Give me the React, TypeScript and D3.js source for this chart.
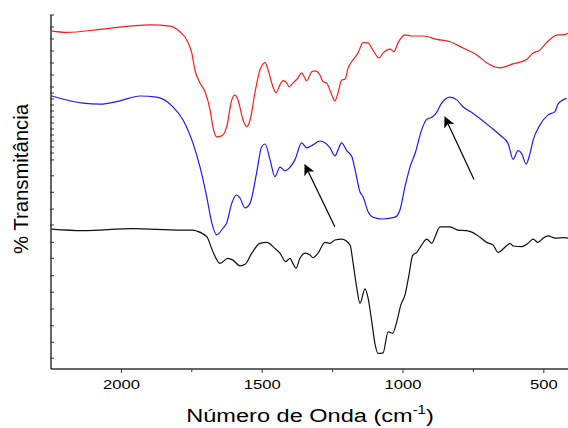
import React, { useEffect, useRef } from "react";
import * as d3 from "d3";

// wavenumber (cm-1) / transmittance (arbitrary offset units)
const redWn = [2250, 2194, 2076, 1959, 1898, 1827, 1792, 1768, 1750, 1739, 1721, 1703, 1685, 1675, 1662, 1644, 1626, 1608, 1597, 1586, 1568, 1555, 1543, 1526, 1508, 1490, 1479, 1466, 1451, 1437, 1426, 1413, 1405, 1391, 1373, 1360, 1342, 1324, 1313, 1295, 1284, 1271, 1253, 1242, 1231, 1218, 1206, 1195, 1178, 1160, 1142, 1124, 1107, 1085, 1071, 1046, 1032, 1018, 993, 969, 929, 880, 833, 787, 738, 703, 656, 609, 561, 538, 514, 490, 454, 432, 414];
const redT = [112.7, 112.2, 113.2, 114.4, 114.7, 114.3, 112.4, 109.7, 105.3, 99.7, 95.3, 92.4, 86.3, 80.7, 77.4, 77.7, 80.8, 89.7, 91.3, 89.7, 83, 80.8, 83, 92, 99.7, 102.1, 99.7, 95.3, 92.1, 94.7, 96.1, 95.4, 94.1, 95.3, 97, 98.7, 96.1, 99.1, 99.4, 98, 95.8, 95.3, 91.3, 89.4, 92, 96.3, 96.6, 100.3, 103, 105.3, 108.8, 108.7, 106.3, 103.7, 105.3, 106.6, 105.8, 108.7, 111.4, 111, 111, 109.9, 109.1, 107, 104.7, 102.1, 100.4, 101.7, 103.2, 105.3, 106.3, 108.8, 111.3, 111.4, 111.9];

const blueWn = [2250, 2136, 2076, 2005, 1934, 1875, 1817, 1781, 1746, 1721, 1697, 1679, 1662, 1639, 1626, 1608, 1591, 1579, 1561, 1543, 1520, 1502, 1490, 1472, 1455, 1437, 1419, 1401, 1384, 1360, 1342, 1320, 1295, 1277, 1259, 1242, 1231, 1218, 1200, 1182, 1170, 1153, 1142, 1124, 1107, 1071, 1028, 1011, 993, 975, 957, 934, 916, 898, 883, 863, 833, 809, 787, 751, 691, 656, 627, 609, 592, 579, 563, 549, 538, 514, 485, 460, 450, 419];
const blueT = [91.1, 88.6, 88.3, 89.4, 91, 90.6, 87.4, 83, 75.3, 67.4, 57.4, 48.7, 44.7, 47, 48.7, 55.3, 58, 57, 53.7, 55.3, 65.3, 74.1, 75, 69.7, 64.1, 67.3, 66.1, 67.3, 69.7, 75.4, 73.7, 74.7, 76, 75.4, 73.7, 71, 73, 75.4, 72.8, 70.8, 66.3, 59.1, 57.4, 52.4, 50.6, 50, 50.6, 53, 60.8, 67.4, 71.9, 79.7, 83.2, 83.9, 85.2, 88.6, 90.6, 89.7, 87.4, 85.2, 80.8, 78, 75.2, 69.9, 72.8, 71.9, 68.3, 71.9, 76.3, 81.3, 84.7, 85.8, 88.3, 90.2];

const blackWn = [2250, 2136, 1959, 1792, 1746, 1733, 1697, 1675, 1650, 1622, 1604, 1579, 1561, 1537, 1508, 1484, 1455, 1437, 1416, 1401, 1391, 1380, 1366, 1348, 1330, 1320, 1302, 1277, 1259, 1242, 1218, 1188, 1178, 1164, 1153, 1135, 1124, 1111, 1100, 1089, 1071, 1053, 1037, 1022, 1008, 993, 979, 966, 951, 934, 916, 898, 886, 869, 833, 805, 774, 738, 703, 680, 663, 632, 620, 609, 579, 556, 538, 521, 503, 485, 460, 425, 414];
const blackT = [46.6, 46.1, 46.8, 46.3, 46.3, 46, 44.1, 39.1, 35.2, 36.9, 36.3, 34.4, 34.9, 38.6, 41.9, 42.2, 40.2, 38.6, 35.8, 36.9, 35.2, 33.6, 36.9, 38.6, 38, 37.1, 38.6, 42.2, 41.9, 43, 43.3, 41.3, 35.8, 26.9, 21.9, 26.7, 23.6, 15.8, 8.6, 5.2, 5.4, 12.4, 11.9, 15.8, 21.3, 24.7, 31.3, 37.8, 38.9, 41.3, 43.3, 41.9, 44.1, 47.4, 47.4, 46.3, 46.1, 44.7, 42.2, 41.3, 38.9, 41.1, 41.9, 41, 40.8, 41.9, 43.3, 42.2, 43.6, 44.4, 43.6, 43.8, 43.6];

// arrows: [tail wn, tail T, head wn, head T]
const arrows = [
  [1242, 47.4, 1348, 68],
  [748, 63.2, 851, 83.9],
];

const xMajorTicks = [2000, 1500, 1000, 500];
const xMinorTicks = [1750, 1250, 750];
const yTicks = [118, 114, 110, 106, 102, 98, 94, 92, 90, 88, 86, 84, 82, 80, 78, 76, 74, 72, 69.7, 64.4, 58.9, 53.3, 48, 42.2, 36.9, 31.1, 25.6, 20, 14.4, 8.9, 3.6];

const W = 568;
const H = 428;
const font = "Arial, 'Liberation Sans', sans-serif";

export default function App() {
  const ref = useRef<SVGSVGElement>(null);

  useEffect(() => {
    const svg = d3.select(ref.current);
    svg.selectAll("*").remove();

    const x = d3.scaleLinear().domain([2250, 400]).range([51, 572]);
    const y = d3.scaleLinear().domain([0, 118]).range([369, 15]);
    const axisColor = "#333";

    const series = [
      { wn: redWn, t: redT, color: "#ff1a1a" },
      { wn: blueWn, t: blueT, color: "#1a1aff" },
      { wn: blackWn, t: blackT, color: "#111" },
    ];

    series.forEach((s) => {
      const pts: [number, number][] = s.wn.map((w, i) => [x(w), y(s.t[i])]);
      svg
        .append("path")
        .attr("d", d3.line().curve(d3.curveMonotoneX)(pts))
        .attr("fill", "none")
        .attr("stroke", s.color)
        .attr("stroke-width", 1.2);
    });

    // arrow head marker
    svg
      .append("defs")
      .append("marker")
      .attr("id", "head")
      .attr("viewBox", "0 0 10 10")
      .attr("refX", 9)
      .attr("refY", 5)
      .attr("markerWidth", 11)
      .attr("markerHeight", 11)
      .attr("markerUnits", "userSpaceOnUse")
      .attr("orient", "auto")
      .append("path")
      .attr("d", "M0,0 L10,5 L0,10 L2.5,5 Z")
      .attr("fill", "#000");

    svg
      .selectAll("line.arrow")
      .data(arrows)
      .join("line")
      .attr("class", "arrow")
      .attr("x1", (d) => x(d[0]))
      .attr("y1", (d) => y(d[1]))
      .attr("x2", (d) => x(d[2]))
      .attr("y2", (d) => y(d[3]))
      .attr("stroke", "#000")
      .attr("stroke-width", 1.2)
      .attr("marker-end", "url(#head)");

    // axes
    const g = svg.append("g").attr("stroke", axisColor);
    g.append("line")
      .attr("x1", x(2250)).attr("x2", W)
      .attr("y1", y(0)).attr("y2", y(0))
      .attr("stroke-width", 1.5);
    g.append("line")
      .attr("x1", x(2250)).attr("x2", x(2250))
      .attr("y1", y(0)).attr("y2", y(118))
      .attr("stroke-width", 1.5);

    g.selectAll("line.xmaj")
      .data(xMajorTicks)
      .join("line")
      .attr("class", "xmaj")
      .attr("x1", (d) => x(d)).attr("x2", (d) => x(d))
      .attr("y1", y(0)).attr("y2", y(0) + 4)
      .attr("stroke-width", 1);
    g.selectAll("line.xmin")
      .data(xMinorTicks)
      .join("line")
      .attr("class", "xmin")
      .attr("x1", (d) => x(d)).attr("x2", (d) => x(d))
      .attr("y1", y(0)).attr("y2", y(0) + 3)
      .attr("stroke-width", 1);
    g.selectAll("line.ytick")
      .data(yTicks)
      .join("line")
      .attr("class", "ytick")
      .attr("x1", x(2250) - 1).attr("x2", x(2250) + 3)
      .attr("y1", (d) => y(d)).attr("y2", (d) => y(d))
      .attr("stroke-width", 1);

    // the reference type is stretched horizontally, so scale the glyphs
    svg
      .selectAll("text.xlab")
      .data(xMajorTicks)
      .join("text")
      .attr("class", "xlab")
      .attr("transform", (d) => `translate(${x(d)},389) scale(1.28,1)`)
      .attr("text-anchor", "middle")
      .attr("font-family", font)
      .attr("font-size", 13)
      .attr("fill", "#000")
      .text((d) => d);

    const xl = svg
      .append("text")
      .attr("transform", "translate(310,422) scale(1.24,1)")
      .attr("text-anchor", "middle")
      .attr("font-family", font)
      .attr("font-size", 19)
      .attr("fill", "#000");
    xl.append("tspan").text("Número de Onda (cm");
    xl.append("tspan").attr("font-size", 12).attr("dy", -8).text("-1");
    xl.append("tspan").attr("dy", 8).text(")");

    svg
      .append("text")
      .attr("transform", "translate(28,179) rotate(-90) scale(1.07,1.08)")
      .attr("text-anchor", "middle")
      .attr("font-family", font)
      .attr("font-size", 19)
      .attr("fill", "#000")
      .text("% Transmitância");
  }, []);

  return (
    <svg
      ref={ref}
      width={W}
      height={H}
      style={{ position: "absolute", left: 0, top: 0, background: "#fff" }}
    />
  );
}
